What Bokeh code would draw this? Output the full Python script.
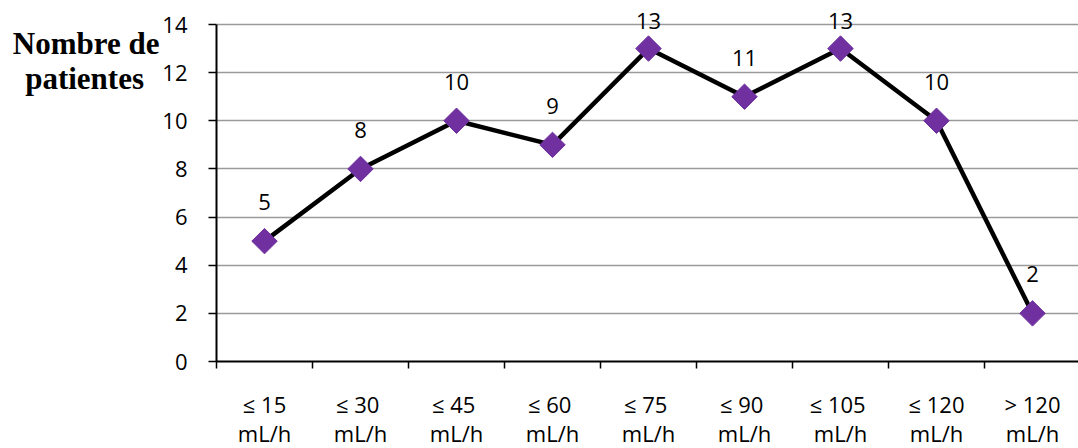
import numpy as np
from bokeh.plotting import figure
from bokeh.models import ColumnDataSource, Range1d, FixedTicker, LabelSet, LinearAxis
from bokeh.core.properties import value
from bokeh.embed import file_html
from bokeh.resources import INLINE

categories = ["≤ 15\nmL/h", "≤  30\nmL/h", "≤  45\nmL/h", "≤  60\nmL/h", "≤  75\nmL/h",
              "≤  90\nmL/h", "≤  105\nmL/h", "≤ 120\nmL/h", "> 120\nmL/h"]
patients = [5, 8, 10, 9, 13, 11, 13, 10, 2]
y_ticks = [0, 2, 4, 6, 8, 10, 12, 14]
y_title = "Nombre de\npatientes\u00a0\u00a0"

n = len(categories)
xs = list(range(n))
y_max = 14
px_per_unit = 337 / y_max
headroom = 20  # px above the top gridline kept inside the frame for labels
frame_h = 337 + headroom
label_y = [min(v + 39 / px_per_unit, y_max + 4 / px_per_unit) for v in patients]

src = ColumnDataSource(dict(x=xs, y=patients, ly=label_y, txt=[str(v) for v in patients]))

p = figure(output_backend="svg", toolbar_location=None,
           frame_width=862, frame_height=frame_h,
           min_border_left=216, min_border_right=0, min_border_top=24 - headroom, min_border_bottom=0,
           x_range=Range1d(-0.5, -0.5 + 862 / 96),
           y_range=Range1d(0, y_max + headroom / px_per_unit),
           x_axis_location=None, y_axis_location=None)
p.outline_line_color = None
p.background_fill_color = "white"
p.border_fill_color = "white"

# y axis
yax = LinearAxis(ticker=FixedTicker(ticks=y_ticks, minor_ticks=[]), bounds=(0, y_max))
yax.axis_line_color = "black"
yax.axis_line_width = 2
yax.major_tick_line_color = "black"
yax.major_tick_line_width = 1.5
yax.major_tick_out = 8
yax.major_tick_in = 0
yax.minor_tick_line_color = None
yax.major_label_standoff = 21
yax.major_label_text_font = "Open Sans"
yax.major_label_text_font_size = "22px"
yax.major_label_text_color = "black"
p.add_layout(yax, "left")

# axis title, as an outer left axis carrying one label
title_pos = y_max - 36 / px_per_unit
tax = LinearAxis(ticker=FixedTicker(ticks=[title_pos], minor_ticks=[]))
tax.major_label_overrides = {title_pos: y_title}
tax.axis_line_color = None
tax.major_tick_line_color = None
tax.minor_tick_line_color = None
tax.major_tick_out = 0
tax.major_tick_in = 0
tax.major_label_standoff = 0
tax.major_label_text_align = "center"
tax.major_label_text_font = "Liberation Serif"
tax.major_label_text_font_style = "bold"
tax.major_label_text_font_size = "31px"
tax.major_label_text_line_height = 1.0
tax.major_label_text_color = "black"
p.add_layout(tax, "left")

# x axis
xax = LinearAxis(ticker=FixedTicker(ticks=xs, minor_ticks=[i - 0.5 for i in range(n + 1)]))
xax.major_label_overrides = {i: c for i, c in enumerate(categories)}
xax.axis_line_color = "black"
xax.axis_line_width = 2
xax.major_tick_line_color = None
xax.major_tick_out = 0
xax.major_tick_in = 0
xax.minor_tick_line_color = "black"
xax.minor_tick_line_width = 1.5
xax.minor_tick_out = 7
xax.minor_tick_in = 0
xax.major_label_standoff = 20
xax.major_label_text_font = "Open Sans"
xax.major_label_text_font_size = "22px"
xax.major_label_text_line_height = 0.98
xax.major_label_text_color = "black"
p.add_layout(xax, "below")

# grid
p.ygrid.ticker = FixedTicker(ticks=y_ticks[1:])
p.ygrid.grid_line_color = "#9a9a9a"
p.ygrid.grid_line_width = 1.5
p.xgrid.grid_line_color = None

p.line("x", "y", source=src, line_color="black", line_width=4.5)
p.scatter("x", "y", source=src, marker="square", angle=np.pi / 4, size=18,
          fill_color="#7030A0", line_color="#7030A0")

labels = LabelSet(x="x", y="ly", text="txt", source=src, text_align="center",
                  text_baseline="middle", text_font=value("Open Sans"),
                  text_font_size="22px", text_color="black")
p.add_layout(labels)

open("out.html", "w").write(file_html(p, INLINE))
